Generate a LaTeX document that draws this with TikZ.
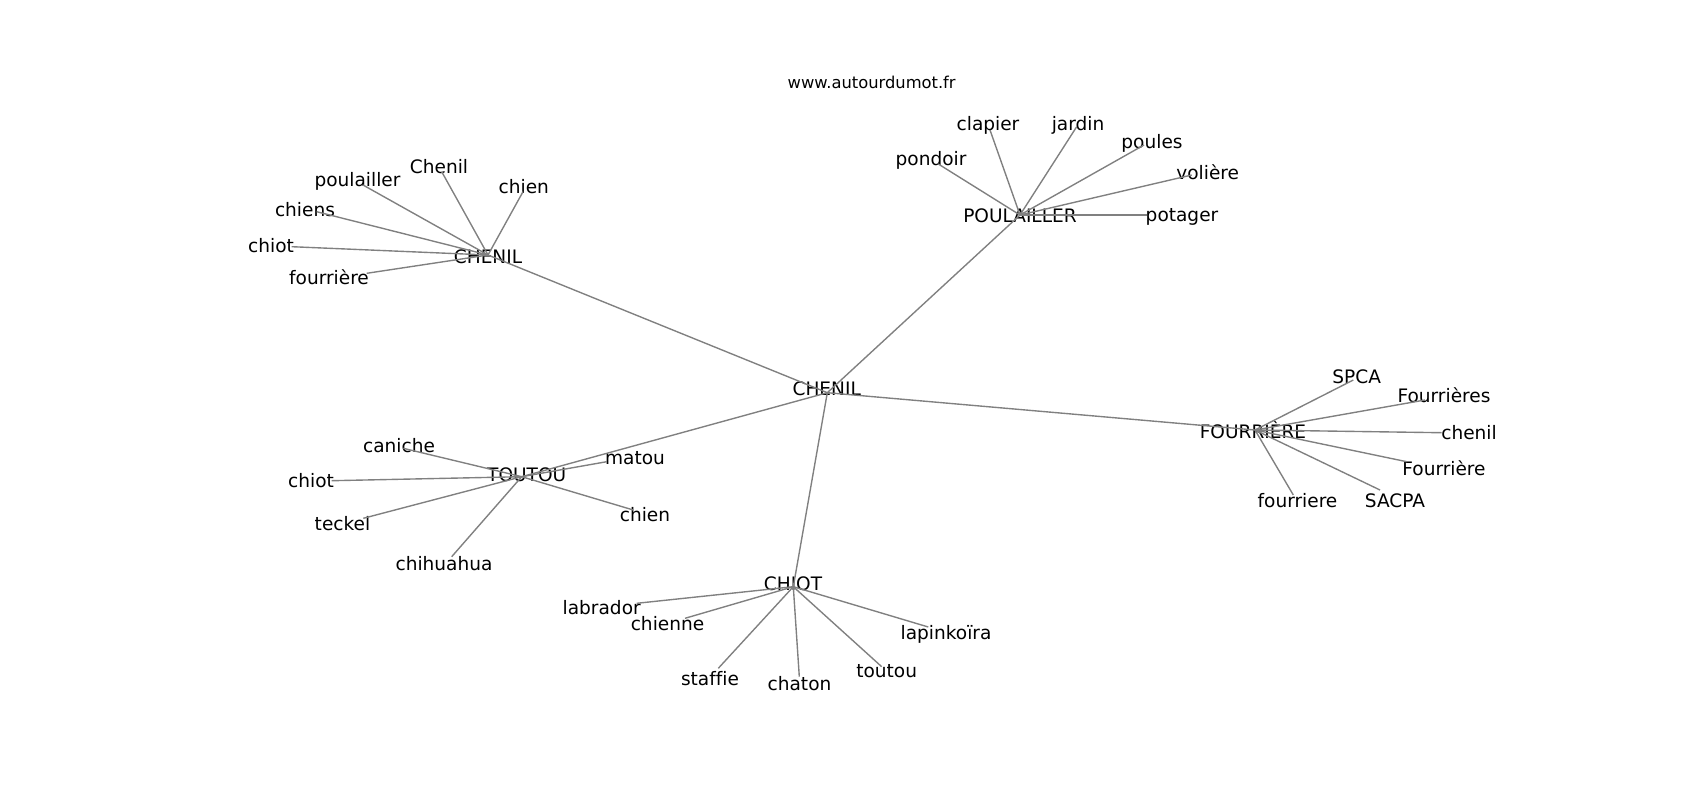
\documentclass[tikz,border=0pt]{standalone}
\usepackage{fontspec}
\setmainfont{DejaVu Sans}[Ligatures=NoCommon]
\usepackage{tikz}
\tikzstyle{word} = [inner sep=0mm, font=\fontsize{13.4}{16}\selectfont]
\tikzstyle{head} = [inner sep=0mm, font=\fontsize{11.8}{14}\selectfont]
\tikzstyle{l} = [draw=black!50, line width=1pt]

\begin{document}
\begin{tikzpicture}[x=0.254mm, y=-0.254mm]
    \useasboundingbox (0,0) rectangle (1700,800);
    \node[head] (site) at (871.7,82.7) {www.autourdumot.fr};

    % hubs
    \foreach \n/\x/\y/\lx/\ly/\t in {c/827.3/392.7/826.7/388.3/CHENIL, cl/488/255/488/256.7/CHENIL,
        p/1020/215/1020/216/POULAILLER, f/1255/430/1253/430/FOURRIÈRE,
        t/521.7/476.7/526.7/474.5/TOUTOU, ch/793.3/586.7/793/583.3/CHIOT}
    {
        \coordinate (\n) at (\x, \y);
        \node[word] (\n-t) at (\lx, \ly) {\t};
    }
    \foreach \t in {cl, p, f, t, ch}
    \draw[l] (c) -- (\t);

    % CHENIL
    \foreach \n/\x/\y/\lx/\ly/\t in {cl1/441.7/171.7/439/167/Chenil, cl2/523/191.7/523.8/186.7/chien,
        cl3/363/185/357.5/181.5/poulailler, cl4/316.7/211.7/305/209.5/chiens,
        cl5/291.7/246.7/271/245.5/chiot, cl6/366.7/273.3/329/277.5/fourrière}
    {
        \coordinate (\n) at (\x, \y);
        \node[word] (\n-t) at (\lx, \ly) {\t};
        \draw[l] (cl) -- (\n);
    }

    % POULAILLER
    \foreach \n/\x/\y/\lx/\ly/\t in {p1/990/130/988/125.5/clapier, p2/1076.7/126.7/1078/125.5/jardin,
        p3/1144/145/1152/143/poules, p4/938.3/164/931/160/pondoir,
        p5/1191.7/175/1207.7/172.5/volière, p6/1146.7/215/1182/216.5/potager}
    {
        \coordinate (\n) at (\x, \y);
        \node[word] (\n-t) at (\lx, \ly) {\t};
        \draw[l] (p) -- (\n);
    }

    % FOURRIERE
    \foreach \n/\x/\y/\lx/\ly/\t in {f1/1353.3/380/1356.7/377/SPCA, f2/1425/400/1444/394.8/Fourrières,
        f3/1441.7/432.7/1469/432.7/chenil, f4/1406.7/461.7/1444/468.3/Fourrière,
        f5/1293.3/495/1297.5/501/fourriere, f6/1380/490/1395/501/SACPA}
    {
        \coordinate (\n) at (\x, \y);
        \node[word] (\n-t) at (\lx, \ly) {\t};
        \draw[l] (f) -- (\n);
    }

    % TOUTOU
    \foreach \n/\x/\y/\lx/\ly/\t in {t1/403.3/448.3/399/446/caniche, t2/331.7/480.7/311/480.5/chiot,
        t3/363.3/518.3/342.5/523.5/teckel, t4/451.7/556.7/444/563.3/chihuahua,
        t5/606.7/461.7/635/457.7/matou, t6/633.3/510/645/514.5/chien}
    {
        \coordinate (\n) at (\x, \y);
        \node[word] (\n-t) at (\lx, \ly) {\t};
        \draw[l] (t) -- (\n);
    }

    % CHIOT
    \foreach \n/\x/\y/\lx/\ly/\t in {ch1/636.7/603.3/601.7/607.3/labrador, ch2/685/618.3/667.5/623.5/chienne,
        ch3/928.3/627/946/634.5/lapinkoïra, ch4/881.7/666.7/886.7/671.3/toutou,
        ch5/718.3/668.3/710/678.7/staffie, ch6/799.3/676.7/799.5/684/chaton}
    {
        \coordinate (\n) at (\x, \y);
        \node[word] (\n-t) at (\lx, \ly) {\t};
        \draw[l] (ch) -- (\n);
    }
\end{tikzpicture}
\end{document}
